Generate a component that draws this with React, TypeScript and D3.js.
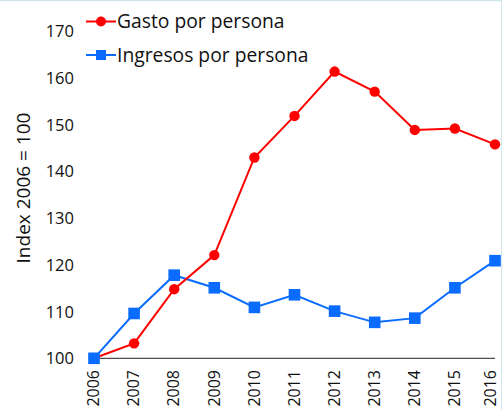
import React from "react";
import * as d3 from "d3";

const years = ["2006", "2007", "2008", "2009", "2010", "2011", "2012", "2013", "2014", "2015", "2016"];
const gasto = [100, 103.2, 114.8, 122.1, 143.0, 151.9, 161.4, 157.1, 148.9, 149.2, 145.8];
const ingresos = [100, 109.6, 117.8, 115.1, 110.9, 113.6, 110.1, 107.7, 108.6, 115.1, 120.9];
const yTicks = [100, 110, 120, 130, 140, 150, 160, 170];
const seriesNames = ["Gasto por persona", "Ingresos por persona"];
const yTitle = "Index 2006 = 100";

const W = 502;
const H = 410;
const RED = "#ff0000";
const BLUE = "#0a6cff";
const FONT = "'Open Sans', sans-serif";

export default function App() {
  const x = d3.scalePoint<string>().domain(years).range([94, 495]);
  const y = d3.scaleLinear().domain([100, 170]).range([358.3, 31.4]);
  const line = d3
    .line<number>()
    .x((_, i) => x(years[i]) as number)
    .y((d) => y(d));

  return (
    <svg
      width={W}
      height={H}
      style={{ position: "absolute", left: 0, top: 0, background: "#fff" }}
      fontFamily={FONT}
    >
      <rect x={0} y={0} width={W} height={H} fill="#fff" />
      <line x1={0} x2={W} y1={0.5} y2={0.5} stroke="#cfe6ea" strokeWidth={1.5} />
      <line x1={501.5} x2={501.5} y1={0} y2={H} stroke="#cfe6ea" strokeWidth={1} />

      {/* y tick labels */}
      {yTicks.map((t) => (
        <text key={t} x={74} y={y(t)} dy="0.36em" textAnchor="end" fontSize={16.5} fill="#111">
          {t}
        </text>
      ))}

      {/* y title */}
      <text
        transform={`translate(23,188) rotate(-90)`}
        textAnchor="middle"
        dy="0.36em"
        fontSize={19}
        fill="#111"
      >
        {yTitle}
      </text>

      {/* x axis line */}
      <line x1={x(years[0])} x2={x(years[years.length - 1])} y1={y(100)} y2={y(100)} stroke="#222" strokeWidth={1} />

      {/* x tick labels */}
      {years.map((yr) => (
        <text
          key={yr}
          transform={`translate(${Math.min(x(yr) as number, 491)},370) rotate(-90)`}
          textAnchor="end"
          dy="0.33em"
          fontSize={16}
          fill="#111"
        >
          {yr}
        </text>
      ))}

      {/* series: ingresos */}
      <path d={line(ingresos) || ""} fill="none" stroke={BLUE} strokeWidth={2} />
      {/* series: gasto */}
      <path d={line(gasto) || ""} fill="none" stroke={RED} strokeWidth={2} />
      {gasto.map((v, i) => (
        <circle key={"g" + i} cx={x(years[i])} cy={y(v)} r={5.2} fill={RED} />
      ))}
      {ingresos.map((v, i) => (
        <rect key={"i" + i} x={(x(years[i]) as number) - 5.8} y={y(v) - 5.8} width={11.6} height={11.6} fill={BLUE} />
      ))}

      {/* legend */}
      <g>
        <line x1={86} x2={116} y1={21.5} y2={21.5} stroke={RED} strokeWidth={2} />
        <circle cx={101} cy={21.5} r={5} fill={RED} />
        <text x={117} y={21.5} dy="0.36em" fontSize={19.3} fill="#111">
          {seriesNames[0]}
        </text>
        <line x1={86} x2={116} y1={55} y2={55} stroke={BLUE} strokeWidth={2} />
        <rect x={101 - 5} y={55 - 5} width={10} height={10} fill={BLUE} />
        <text x={117} y={55} dy="0.36em" fontSize={19.3} fill="#111">
          {seriesNames[1]}
        </text>
      </g>
    </svg>
  );
}
